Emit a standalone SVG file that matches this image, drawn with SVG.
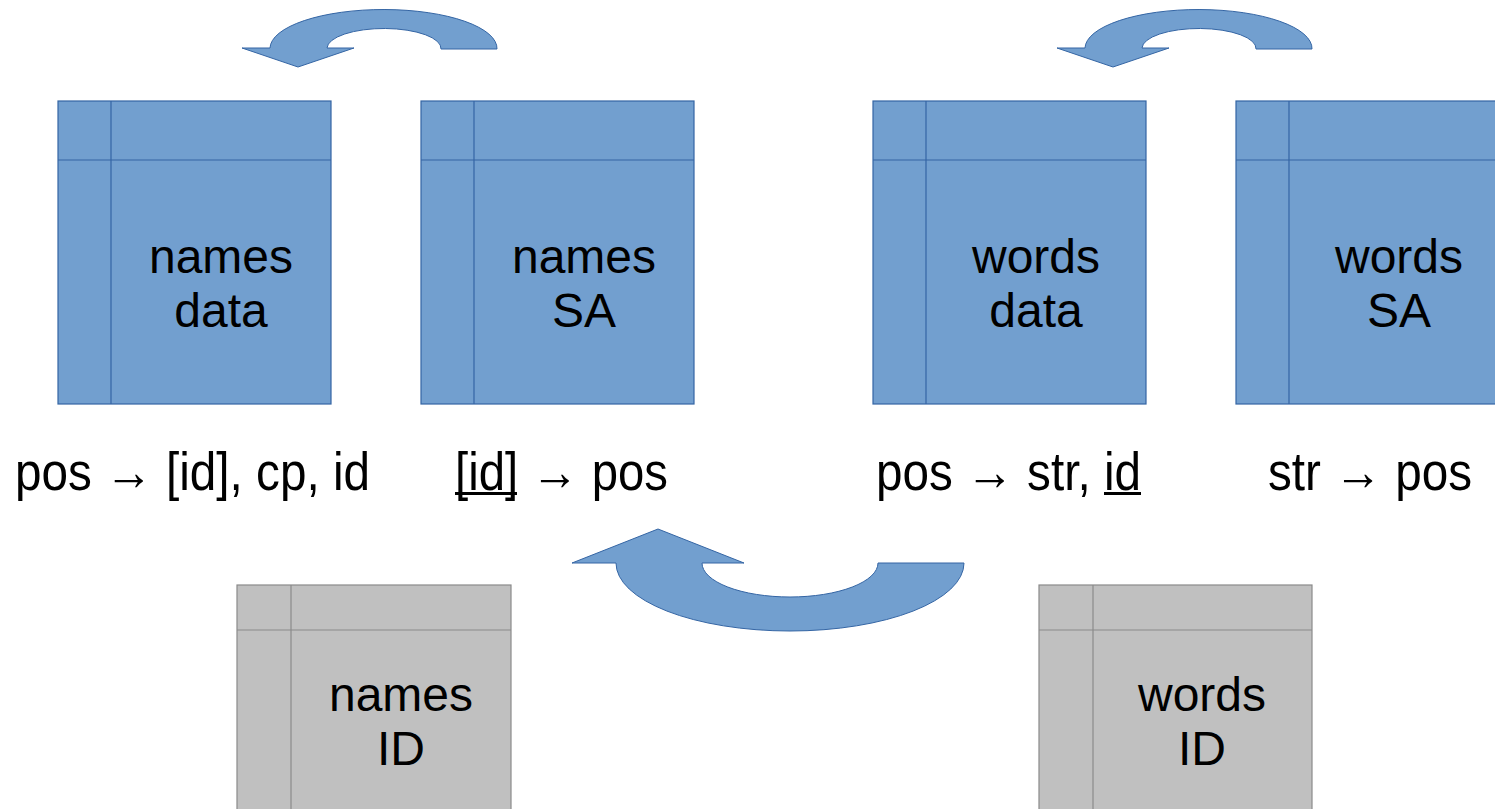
<svg xmlns="http://www.w3.org/2000/svg" width="1495" height="809" viewBox="0 0 1495 809">
<style>
.blue{fill:#729fcf;stroke:#3465a4;stroke-width:1.2}
.bl{stroke:#3465a4;stroke-width:1.2}
.grey{fill:#c0c0c0;stroke:#8a8a8a;stroke-width:1.2}
.gl{stroke:#8a8a8a;stroke-width:1.2}
.t{font-family:"Liberation Sans",Arial,sans-serif;font-size:48px;fill:#000;text-anchor:middle}
.lab{font-family:"Liberation Sans Narrow","Liberation Sans",Arial,sans-serif;font-size:54px;fill:#000}
.ul{fill:#000}
.arr{fill:#729fcf;stroke:#3465a4;stroke-width:1}
</style>
<rect width="1495" height="809" fill="#fff"/>
<g id="connectors">
<path class="arr" d="M497 49 A113.5 39 0 0 0 270 48 L242 48 L298 67 L354 48 L327 48 A57 20 0 0 1 441 49 Z"/>
<path class="arr" d="M1312 49 A113.5 39 0 0 0 1085 48 L1057 48 L1113 67 L1169 48 L1142 48 A57 20 0 0 1 1256 49 Z"/>
<path class="arr" d="M964 563 A174 68 0 0 1 616 563 L572 563 L658 529 L744 563 L702 563 A88 34 0 0 0 878 563 Z"/>
</g>
<g id="names-data">
<rect class="blue" x="58" y="101" width="273" height="303"/>
<line class="bl" x1="111" y1="101" x2="111" y2="404"/>
<line class="bl" x1="58" y1="160" x2="331" y2="160"/>
<text class="t" x="221" y="273">names</text>
<text class="t" x="221" y="327">data</text>
</g>
<g id="names-sa">
<rect class="blue" x="421" y="101" width="273" height="303"/>
<line class="bl" x1="474" y1="101" x2="474" y2="404"/>
<line class="bl" x1="421" y1="160" x2="694" y2="160"/>
<text class="t" x="584" y="273">names</text>
<text class="t" x="584" y="327">SA</text>
</g>
<g id="words-data">
<rect class="blue" x="873" y="101" width="273" height="303"/>
<line class="bl" x1="926" y1="101" x2="926" y2="404"/>
<line class="bl" x1="873" y1="160" x2="1146" y2="160"/>
<text class="t" x="1036" y="273">words</text>
<text class="t" x="1036" y="327">data</text>
</g>
<g id="words-sa">
<rect class="blue" x="1236" y="101" width="273" height="303"/>
<line class="bl" x1="1289" y1="101" x2="1289" y2="404"/>
<line class="bl" x1="1236" y1="160" x2="1509" y2="160"/>
<text class="t" x="1399" y="273">words</text>
<text class="t" x="1399" y="327">SA</text>
</g>
<g id="names-id">
<rect class="grey" x="237" y="585" width="274" height="240"/>
<line class="gl" x1="291" y1="585" x2="291" y2="825"/>
<line class="gl" x1="237" y1="630" x2="511" y2="630"/>
<text class="t" x="401" y="711">names</text>
<text class="t" x="401" y="765">ID</text>
</g>
<g id="words-id">
<rect class="grey" x="1039" y="585" width="273" height="240"/>
<line class="gl" x1="1093" y1="585" x2="1093" y2="825"/>
<line class="gl" x1="1039" y1="630" x2="1312" y2="630"/>
<text class="t" x="1202" y="711">words</text>
<text class="t" x="1202" y="765">ID</text>
</g>
<g id="labels">
<text class="lab" x="15" y="490" textLength="355" lengthAdjust="spacingAndGlyphs">pos → [id], cp, id</text>
<text class="lab" x="455" y="490" textLength="213" lengthAdjust="spacingAndGlyphs">[id] → pos</text>
<rect class="ul" x="455" y="492" width="62" height="3"/>
<text class="lab" x="876" y="490" textLength="265" lengthAdjust="spacingAndGlyphs">pos → str, id</text>
<rect class="ul" x="1104" y="492" width="37" height="3"/>
<text class="lab" x="1268" y="490" textLength="204" lengthAdjust="spacingAndGlyphs">str → pos</text>
</g>
</svg>
